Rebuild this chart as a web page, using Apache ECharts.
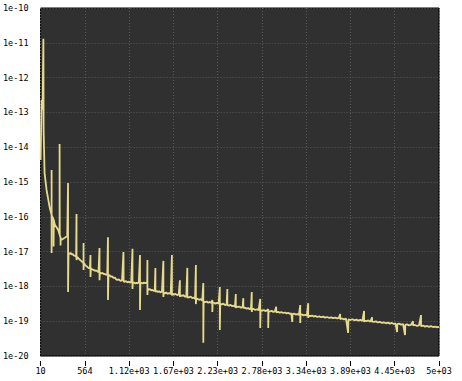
<!DOCTYPE html>
<html>
<head>
<meta charset="utf-8">
<script src="https://cdn.jsdelivr.net/npm/echarts@6/dist/echarts.min.js"></script>
<style>
html,body{margin:0;padding:0;background:#fff;}
#c{width:462px;height:381px;}
</style>
</head>
<body>
<div id="c"></div>
<script>
// Frequency (x) and spectral value (y); spikes are repeated x values
const freq = [
10,23,35,45,48,60,85,123,
148,148,148,150,173,173,175,189,231,248,248,250,260,260,262,273,314,344,354,354,
360,372,385,398,410,423,440,455,460,460,472,485,498,510,522,535,
548,548,548,552,565,580,598,615,628,635,635,640,655,673,690,705,720,735,
748,748,752,768,785,800,815,830,845,854,854,860,875,890,905,923,940,955,973,990,1010,1030,
1048,1050,1065,1080,1098,1115,1130,1145,1161,1161,1165,1180,1195,1210,1225,1240,
1255,1255,1260,1275,1290,1305,1320,1336,1345,1348,1348,1352,1365,1380,1395,1410,1425,1440,
1448,1448,1465,1480,1495,1510,1530,1548,1548,1552,1570,1585,1600,1620,1640,
1655,1655,1660,1680,1700,1720,1740,1755,1755,1760,1780,1800,1820,1835,
1848,1848,1852,1870,1890,1910,1930,1945,1955,1955,1960,1975,1995,2015,2035,
2048,2048,2052,2070,2090,2110,2130,2150,2161,2161,2165,2180,2200,2220,2240,
2255,2255,2260,2280,2300,2320,2340,2349,2349,2370,2390,2410,2430,2445,
2455,2455,2460,2480,2500,2520,2540,2549,2549,2570,2590,2610,2630,2645,
2655,2655,2660,2680,2700,2720,2740,2761,2761,2765,2785,2805,2825,2845,
2861,2861,2865,2885,2905,2925,2945,2961,2961,2985,3005,3025,3049,3070,3090,3110,3130,3150,
3162,3165,3185,3205,3225,3245,3262,3262,3266,3285,3305,3325,3345,3362,3362,3366,
3390,3410,3430,3455,3474,3500,3525,3550,3575,3600,3625,3650,3674,3700,3725,3745,
3762,3762,3785,3810,3835,3862,3865,3890,3915,3940,3965,3990,4015,4040,
4062,4062,4066,4090,4115,4140,4162,4162,4185,4210,4235,4260,4285,4310,4335,4360,4385,4410,4435,4455,
4475,4478,4500,4525,4550,4575,4578,4600,4625,4650,4675,4675,4700,4725,4750,4775,4775,
4800,4825,4850,4875,4900,4925,4950,4975,5000
];
const psd = [
4.3e-15,2.3e-13,1.2e-13,1.3e-11,3.1e-14,1.8e-15,5.9e-16,1.9e-16,
1.13e-16,2.2e-15,9.1e-18,1.1e-16,8.3e-17,1.4e-17,8.0e-17,5.9e-17,4.2e-17,3.1e-17,1.24e-14,3.0e-17,2.5e-17,1.5e-17,2.4e-17,2.2e-17,2.5e-17,2.8e-17,9.4e-16,6.9e-19,
9.1e-18,8.5e-18,9.3e-18,8.2e-18,8.6e-18,7.8e-18,7.6e-18,7.1e-18,1.2e-16,5.7e-18,7.0e-18,6.4e-18,6.0e-18,5.6e-18,5.3e-18,5.0e-18,
4.6e-18,1.77e-17,2.96e-18,4.7e-18,4.2e-18,3.9e-18,3.6e-18,3.3e-18,3.5e-18,8.0e-18,1.86e-18,3.3e-18,3.1e-18,3.0e-18,2.8e-18,2.9e-18,2.7e-18,2.55e-18,
1.27e-17,1.5e-18,2.5e-18,2.35e-18,2.45e-18,2.25e-18,2.3e-18,2.15e-18,2.2e-18,2.6e-17,4.1e-19,2.05e-18,2.1e-18,1.9e-18,1.95e-18,1.75e-18,1.8e-18,1.6e-18,1.55e-18,1.6e-18,1.45e-18,1.5e-18,
9.7e-18,1.4e-18,1.35e-18,1.42e-18,1.3e-18,1.38e-18,1.28e-18,1.32e-18,1.2e-17,8.4e-19,1.25e-18,1.3e-18,1.2e-18,1.28e-18,1.22e-18,1.3e-18,
8.0e-18,2.1e-19,1.2e-18,1.28e-18,1.2e-18,1.3e-18,1.22e-18,1.3e-18,1.2e-18,5.7e-18,5.7e-19,8.6e-19,8.0e-19,8.4e-19,7.6e-19,8.0e-19,7.4e-19,7.8e-19,
3.4e-18,7.0e-19,7.4e-19,6.9e-19,7.3e-19,6.7e-19,7.0e-19,5.4e-18,5.0e-19,6.6e-19,6.3e-19,6.7e-19,6.1e-19,6.5e-19,6.0e-19,
8.0e-18,5.5e-19,6.2e-19,5.8e-19,6.1e-19,5.6e-19,5.9e-19,1.5e-18,5.0e-19,5.6e-19,5.3e-19,5.6e-19,5.0e-19,5.3e-19,
3.4e-18,4.6e-19,5.0e-19,4.8e-19,5.1e-19,4.6e-19,4.8e-19,4.4e-19,4.1e-18,3.1e-19,4.5e-19,4.4e-19,4.1e-19,4.3e-19,3.9e-19,
1.25e-18,2.4e-20,3.7e-19,3.5e-19,3.7e-19,3.4e-19,3.6e-19,3.3e-19,4.1e-19,1.84e-19,3.3e-19,3.4e-19,3.2e-19,3.4e-19,3.2e-19,
9.6e-19,5.6e-20,3.2e-19,3.0e-19,3.2e-19,2.9e-19,3.05e-19,8.4e-19,2.9e-19,2.8e-19,2.95e-19,2.7e-19,2.8e-19,2.6e-19,
6.0e-19,2.4e-19,2.7e-19,2.55e-19,2.65e-19,2.45e-19,2.55e-19,4.6e-19,2.4e-19,2.45e-19,2.3e-19,2.4e-19,2.2e-19,2.3e-19,
6.9e-19,1.84e-19,2.2e-19,2.25e-19,2.1e-19,2.2e-19,2.05e-19,4.35e-19,6.4e-20,2.1e-19,2.0e-19,2.1e-19,1.95e-19,2.05e-19,
2.2e-19,6.4e-20,1.95e-19,1.9e-19,1.98e-19,1.85e-19,1.92e-19,2.6e-19,1.8e-19,1.85e-19,1.75e-19,1.82e-19,1.72e-19,1.78e-19,1.68e-19,1.74e-19,1.63e-19,1.68e-19,
9.5e-20,1.6e-19,1.65e-19,1.55e-19,1.6e-19,1.5e-19,2.9e-19,8.9e-20,1.52e-19,1.56e-19,1.47e-19,1.53e-19,1.45e-19,3.3e-19,1.24e-19,1.45e-19,
1.4e-19,1.45e-19,1.36e-19,1.42e-19,1.32e-19,1.38e-19,1.3e-19,1.35e-19,1.27e-19,1.32e-19,1.24e-19,1.29e-19,1.22e-19,1.27e-19,1.2e-19,1.24e-19,
1.6e-19,1.15e-19,1.2e-19,1.13e-19,1.18e-19,4.6e-20,1.12e-19,1.08e-19,1.14e-19,1.06e-19,1.11e-19,1.04e-19,1.09e-19,1.02e-19,
1.96e-19,9.5e-20,1.04e-19,1.0e-19,1.05e-19,9.7e-20,1.3e-19,9.8e-20,9.5e-20,9.9e-20,9.2e-20,9.6e-20,8.9e-20,9.3e-20,8.7e-20,9.1e-20,8.5e-20,8.9e-20,8.3e-20,8.7e-20,
4.9e-20,8.3e-20,8.5e-20,8.0e-20,8.3e-20,4.0e-20,7.8e-20,8.1e-20,7.6e-20,7.9e-20,1.0e-19,7.6e-20,7.8e-20,7.3e-20,7.6e-20,1.5e-19,7.2e-20,
7.5e-20,7.0e-20,7.3e-20,6.9e-20,7.2e-20,6.8e-20,7.0e-20,6.7e-20,6.9e-20
];
const xTickValues = [10, 564.44, 1118.89, 1673.33, 2227.78, 2782.22, 3336.67, 3891.11, 4445.56, 5000];
const xTickLabels = ["10", "564", "1.12e+03", "1.67e+03", "2.23e+03", "2.78e+03", "3.34e+03", "3.89e+03", "4.45e+03", "5e+03"];
const yMin = 1e-20, yMax = 1e-10;

const chart = echarts.init(document.getElementById('c'), null, {renderer: 'svg'});
const font = 'DejaVu Sans Mono';
chart.setOption({
  animation: false,
  grid: {left: 40, top: 8, width: 399, height: 348, show: true, backgroundColor: 'rgb(48,48,48)', borderColor: 'rgb(0,0,0)', borderWidth: 1, containLabel: false},
  xAxis: [{
    type: 'value', min: 10, max: 5000, position: 'bottom', offset: 5,
    axisLine: {show: false},
    axisTick: {show: true, length: 5, customValues: xTickValues, lineStyle: {color: '#000'}},
    axisLabel: {customValues: xTickValues, margin: 5, color: '#000', fontFamily: font, fontSize: 8.5,
      formatter: v => { const i = xTickValues.findIndex(t => Math.abs(t - v) < 1); return i >= 0 ? xTickLabels[i] : ''; }},
    splitLine: {show: false}
  }, {
    type: 'value', min: 0, max: 9, interval: 1, position: 'top',
    axisLine: {show: false}, axisTick: {show: false}, axisLabel: {show: false},
    splitLine: {show: true, lineStyle: {color: '#5a5a5a', type: [1, 2], width: 1}}
  }],
  yAxis: {
    type: 'log', logBase: 10, min: yMin, max: yMax, interval: 1, splitNumber: 10,
    axisLine: {show: false}, axisTick: {show: false},
    axisLabel: {margin: 12, color: '#000', fontFamily: font, fontSize: 8.5,
      formatter: v => '1e' + Math.round(Math.log10(v))},
    splitLine: {show: true, lineStyle: {color: '#5a5a5a', type: [1, 2], width: 1}}
  },
  series: [{
    type: 'line', xAxisIndex: 0, showSymbol: false, symbol: 'none', sampling: null, z: 5,
    lineStyle: {color: '#e6da8c', width: 1.8},
    data: freq.map((f, i) => [f, psd[i]])
  }]
});
</script>
</body>
</html>
